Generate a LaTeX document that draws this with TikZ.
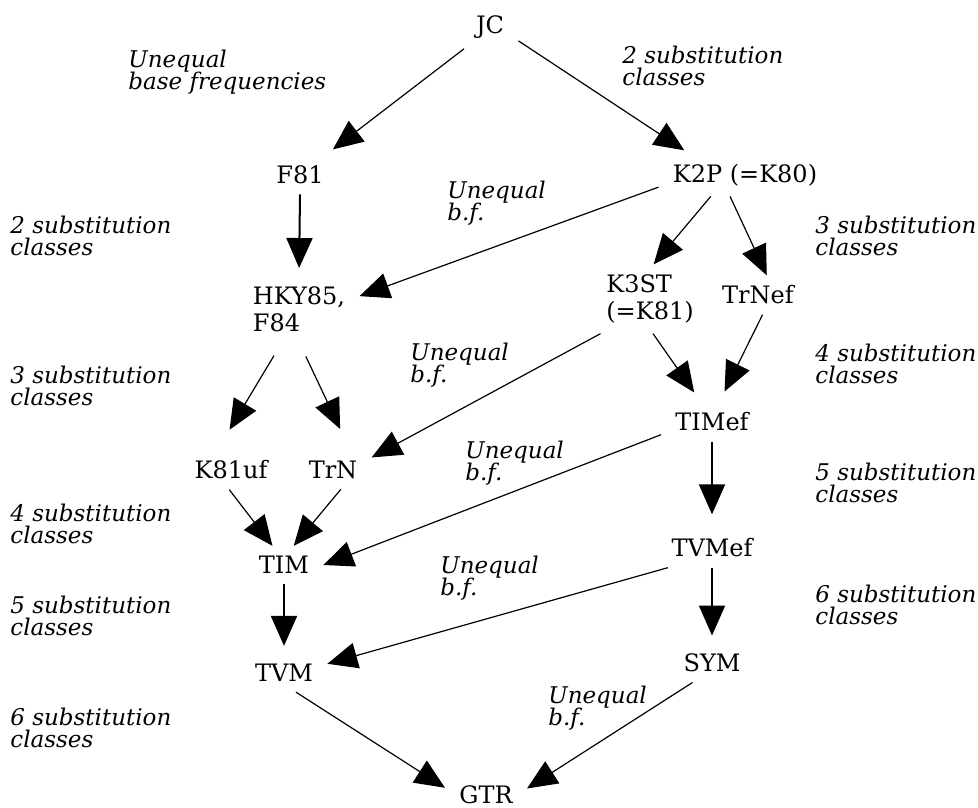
\documentclass[tikz,border=0pt]{standalone}
\usepackage{fontspec}
\setmainfont{DejaVu Serif}
\usetikzlibrary{arrows.meta}
\begin{document}
\begin{tikzpicture}[x=0.5pt,y=-0.5pt,
  model/.style={inner xsep=7pt,inner ysep=5pt,font=\fontsize{12}{13.5}\selectfont,align=left},
  cond/.style={anchor=west,inner sep=0pt,font=\fontsize{11.5}{11.2}\selectfont\itshape,align=left},
  arr/.style={-{Triangle[length=15pt,width=13pt]},line width=0.6pt},
  varr/.style={arr,line width=1pt,shorten >=4pt}]
\useasboundingbox (0,0) rectangle (978,807);
% models
\node[model] (jc) at (490,27) {JC};
\node[model] (f81) at (300,175) {F81};
\node[model] (k2p) at (745,175) {K2P (=K80)};
\node[model] (hky) at (299,309) {HKY85,\\F84};
\node[model] (k3st) at (650,299) {K3ST\\(=K81)};
\node[model] (trnef) at (758,295) {TrNef};
\node[model] (k81uf) at (231,470) {K81uf};
\node[model] (trn) at (333,470) {TrN};
\node[model] (timef) at (712,422) {TIMef};
\node[model] (tim) at (284,565) {TIM};
\node[model] (tvmef) at (712,548) {TVMef};
\node[model] (tvm) at (284,673) {TVM};
\node[model] (sym) at (712,663) {SYM};
\node[model] (gtr) at (486,795) {GTR};
% conditions
\node[cond] (c1) at (128,72) {Unequal\\base frequencies};
\node[cond] (c2) at (622,66) {2 substitution\\classes};
\node[cond] (c3) at (10,236) {2 substitution\\classes};
\node[cond] (c4) at (447,203) {Unequal\\b.f.};
\node[cond] (c5) at (815,236) {3 substitution\\classes};
\node[cond] (c6) at (10,386) {3 substitution\\classes};
\node[cond] (c7) at (410,365) {Unequal\\b.f.};
\node[cond] (c8) at (815,364) {4 substitution\\classes};
\node[cond] (c9) at (465,463) {Unequal\\b.f.};
\node[cond] (c10) at (815,483) {5 substitution\\classes};
\node[cond] (c11) at (10,524) {4 substitution\\classes};
\node[cond] (c12) at (440,578) {Unequal\\b.f.};
\node[cond] (c13) at (10,616) {5 substitution\\classes};
\node[cond] (c14) at (815,605) {6 substitution\\classes};
\node[cond] (c15) at (10,728) {6 substitution\\classes};
\node[cond] (c16) at (548,708) {Unequal\\b.f.};
% arrows
\draw[arr,shorten >=5pt] (jc.220) -- (f81.38);
\draw[arr,shorten >=3pt] (jc.334) -- (k2p.159);
\draw[varr] (f81.south) -- (hky.north);
\draw[arr] (k2p.188) -- (hky.12);
\draw[arr] (k2p.212) -- (k3st.84);
\draw[arr] (k2p.235) -- (trnef.66);
\draw[arr,shorten <=8pt,shorten >=12pt] (hky.243) -- (k81uf.125);
\draw[arr,shorten <=8pt,shorten >=12pt] (hky.270) -- (trn.48);
\draw[arr] (k3st.215) -- (trn.18);
\draw[arr,shorten >=6pt] (k3st.275) -- (timef.119);
\draw[arr,shorten >=6pt] (trnef.283) -- (timef.70);
\draw[arr] (k81uf.265) -- (tim.121);
\draw[arr] (trn.292) -- (tim.63);
\draw[arr] (timef.194) -- (tim.0);
\draw[varr,shorten >=7pt] (timef.south) -- (tvmef.north);
\draw[arr] (tvmef.204) -- (tvm.12);
\draw[varr] (tim.south) -- (tvm.north);
\draw[varr] (tvmef.south) -- (sym.north);
\draw[arr] (tvm.302) -- (gtr.170);
\draw[arr] (sym.225) -- (gtr.9);
\end{tikzpicture}
\end{document}
